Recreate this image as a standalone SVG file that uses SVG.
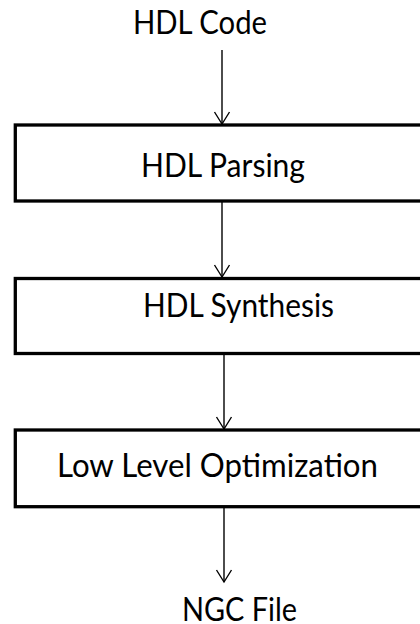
<svg xmlns="http://www.w3.org/2000/svg" width="420" height="624" viewBox="0 0 420 624">
<defs>
<style>
.box{fill:#fff;stroke:#000;stroke-width:3.3}
.lbl{font-family:Lato,"Liberation Sans",sans-serif;font-size:32px;fill:#000}
.con{stroke:#000;stroke-width:1.4;fill:none}
</style>
<marker id="ah" markerUnits="userSpaceOnUse" markerWidth="20" markerHeight="20" viewBox="-14 -10 16 20" refX="0" refY="0" orient="auto">
<path d="M-12,-7.5 L0,0 L-12,7.5" fill="none" stroke="#000" stroke-width="1.4"/>
</marker>
</defs>
<rect width="420" height="624" fill="#fff"/>
<g id="connectors">
<line class="con" x1="222" y1="50" x2="222" y2="124" marker-end="url(#ah)"/>
<line class="con" x1="222" y1="201" x2="222" y2="277" marker-end="url(#ah)"/>
<line class="con" x1="224" y1="355" x2="224" y2="429" marker-end="url(#ah)"/>
<line class="con" x1="224" y1="508" x2="224" y2="582" marker-end="url(#ah)"/>
</g>
<g id="hdl-code">
<text class="lbl" x="133" y="33.5" textLength="134" lengthAdjust="spacingAndGlyphs">HDL Code</text>
</g>
<g id="hdl-parsing">
<rect class="box" x="15.3" y="125" width="420" height="76"/>
<text class="lbl" x="141" y="176.7" textLength="164" lengthAdjust="spacingAndGlyphs">HDL Parsing</text>
</g>
<g id="hdl-synthesis">
<rect class="box" x="15.3" y="278.5" width="420" height="75"/>
<text class="lbl" x="143" y="317.3" textLength="191" lengthAdjust="spacingAndGlyphs">HDL Synthesis</text>
</g>
<g id="low-level-optimization">
<rect class="box" x="15.3" y="430" width="420" height="76.7"/>
<text class="lbl" x="57" y="476.7" textLength="321" lengthAdjust="spacingAndGlyphs">Low Level Optimization</text>
</g>
<g id="ngc-file">
<text class="lbl" x="182" y="620.7" textLength="115" lengthAdjust="spacingAndGlyphs">NGC File</text>
</g>
</svg>
